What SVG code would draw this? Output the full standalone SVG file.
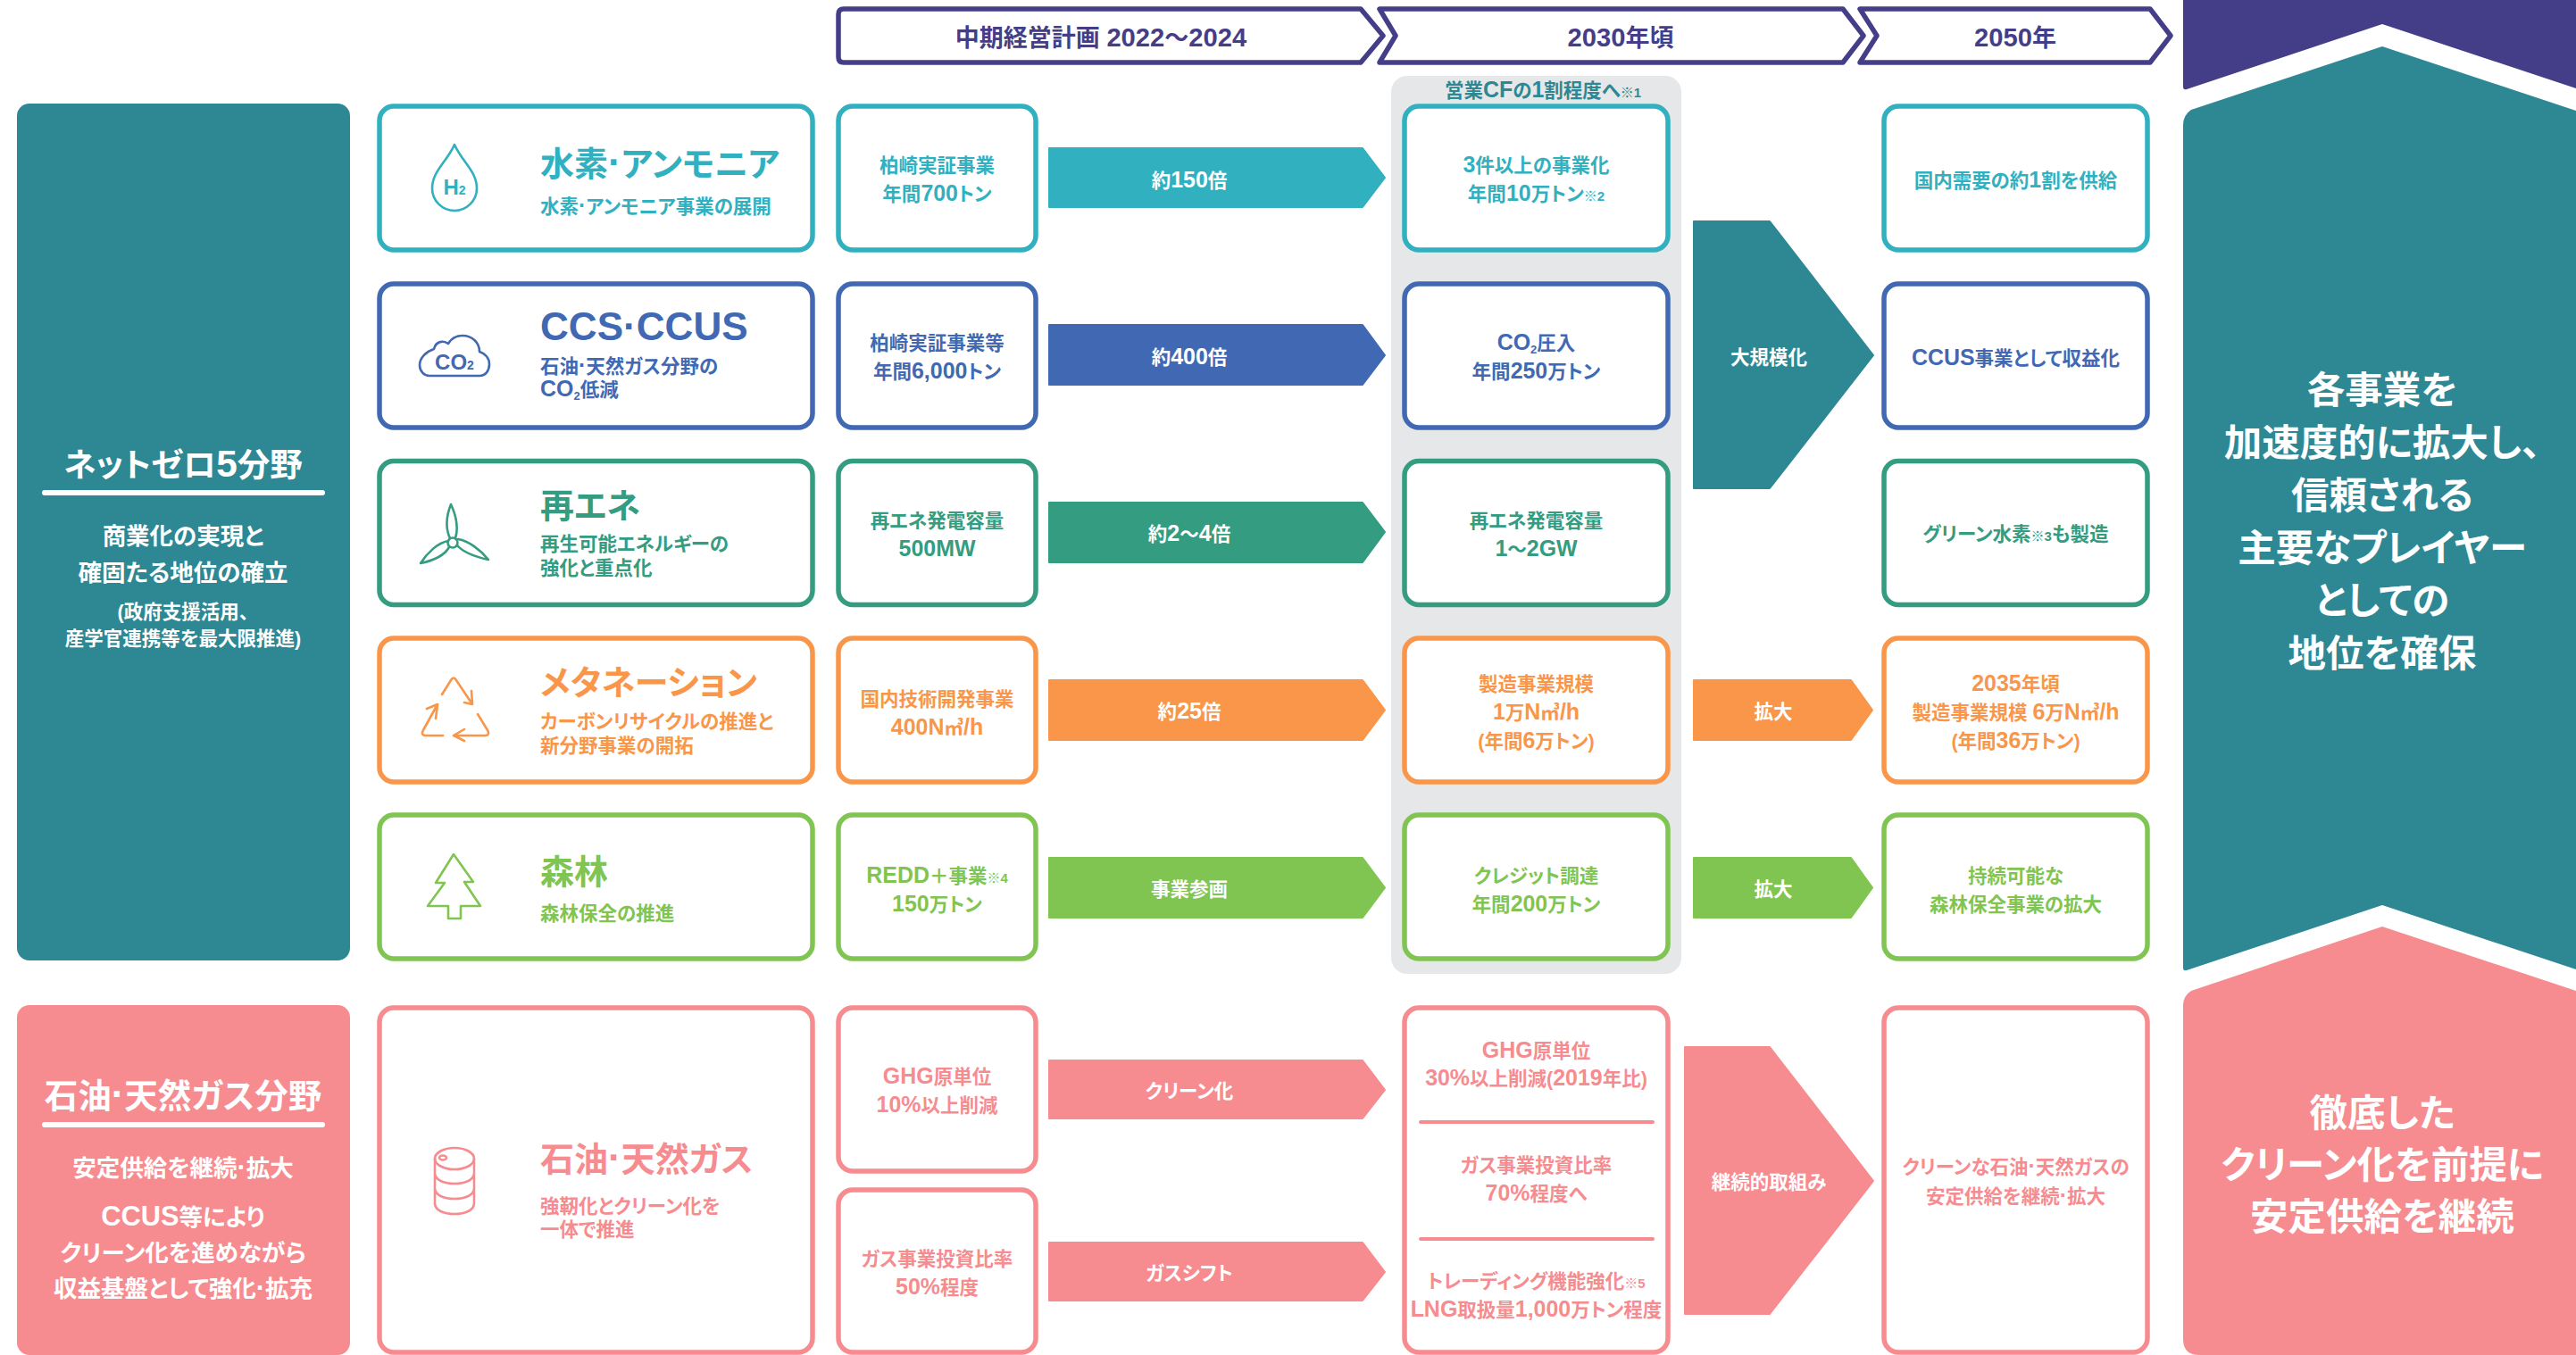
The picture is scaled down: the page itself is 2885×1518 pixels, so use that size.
<svg xmlns="http://www.w3.org/2000/svg" width="2885" height="1518" viewBox="0 0 2885 1518">
<style>
text{font-family:"Liberation Sans","Noto Sans CJK JP",sans-serif;font-weight:700;font-feature-settings:"palt";fill:currentColor;font-size:21.5px}
.m{text-anchor:middle}
.L{font-size:1.16em}
.hdt .L{font-size:1.08em}
.cy{color:#31b0bf}.bl{color:#4169b3}.gr{color:#349c80}.or{color:#f99649}.li{color:#80c551}.pk{color:#f68c90}.te{color:#2d8894}.pu{color:#443e88}
.box{fill:#fff;stroke:currentColor;stroke-width:5.5}
.arr{fill:currentColor;stroke:currentColor;stroke-width:2;stroke-linejoin:round}
.ic{fill:none;stroke:currentColor;stroke-width:2.6;stroke-linejoin:round;stroke-linecap:round}
.hd{fill:#fff;stroke:currentColor;stroke-width:5.5;stroke-linejoin:round}
.w{fill:#fff}
.ti{font-size:38px}
.hdt{font-size:27px}
.lt{font-size:36.5px}
.ls{font-size:26.5px}
.rt{font-size:42.5px}
.n{font-size:15px}
.s{font-size:13px}
</style>
<rect id="cf-band" x="1558" y="85" width="325" height="1006" rx="18" fill="#e6e7e8"/>
<text id="cf-label" class="m te" x="1728" y="109">営業<tspan class="L">CF</tspan>の<tspan class="L">1</tspan>割程度へ<tspan class="n">※1</tspan></text>

<g id="timeline-2022" class="pu"><path class="hd" d="M945,10H1524L1549,40L1524,70H945Q939,70 939,64V16Q939,10 945,10Z"/><text class="m hdt" x="1233" y="52">中期経営計画 <tspan class="L">2022</tspan>〜<tspan class="L">2024</tspan></text></g>
<g id="timeline-2030" class="pu"><path class="hd" d="M1545,10H2064L2087,40L2064,70H1545L1563,40Z"/><text class="m hdt" x="1815" y="52"><tspan class="L">2030</tspan>年頃</text></g>
<g id="timeline-2050" class="pu"><path class="hd" d="M2083,10H2408L2431,40L2408,70H2083L2102,40Z"/><text class="m hdt" x="2257" y="52"><tspan class="L">2050</tspan>年</text></g>

<g id="panel-netzero" class="te"><rect x="19" y="116" width="373" height="960" rx="14" fill="currentColor"/>
<text class="m lt w" x="205" y="534">ネットゼロ<tspan class="L">5</tspan>分野</text><rect class="w" x="47" y="549" width="317" height="6" rx="3"/>
<text class="m ls w" x="205" y="610">商業化の実現と</text><text class="m ls w" x="205" y="651">確固たる地位の確立</text>
<text class="m w" x="205" y="693">(政府支援活用、</text><text class="m w" x="205" y="723">産学官連携等を最大限推進)</text></g>
<g id="panel-oilgas" class="pk"><rect x="19" y="1126" width="373" height="392" rx="14" fill="currentColor"/>
<text class="m lt w" x="205" y="1241" style="font-size:37.5px">石油<tspan class="L">·</tspan>天然ガス分野</text><rect class="w" x="47" y="1257" width="317" height="6" rx="3"/>
<text class="m ls w" x="205" y="1318">安定供給を継続<tspan class="L">·</tspan>拡大</text><text class="m ls w" x="205" y="1373"><tspan class="L">CCUS</tspan>等により</text><text class="m ls w" x="205" y="1413">クリーン化を進めながら</text><text class="m ls w" x="205" y="1453">収益基盤として強化<tspan class="L">·</tspan>拡充</text></g>

<g id="field-hydrogen" class="cy"><rect class="box" x="425" y="119" width="485" height="161" rx="16"/>
<path class="ic" d="M509,162C500,182 484,192 484,211A25,25 0 0 0 534,211C534,192 518,182 509,162Z"/><text class="m" x="509" y="218" style="font-size:24px">H<tspan style="font-size:14px">2</tspan></text>
<text class="ti" x="605" y="197">水素<tspan class="L">·</tspan>アンモニア</text><text x="605" y="239">水素<tspan class="L">·</tspan>アンモニア事業の展開</text></g>
<g id="field-ccs" class="bl"><rect class="box" x="425" y="318" width="485" height="161" rx="16"/>
<path class="ic" d="M481,421H537C544,421 548,415 548,408C548,401 543,396 537,394C537,384 529,376 518,376C510,376 505,380 502,385C497,381 488,382 486,391C477,394 470,401 470,409C470,416 475,421 481,421Z"/><text class="m" x="509" y="414" style="font-size:24px">CO<tspan style="font-size:14px">2</tspan></text>
<text class="ti" x="605" y="381"><tspan class="L">CCS·CCUS</tspan></text><text x="605" y="418">石油<tspan class="L">·</tspan>天然ガス分野の</text><text x="605" y="444"><tspan class="L">CO</tspan><tspan class="s" dy="4">2</tspan><tspan dy="-4">低減</tspan></text></g>
<g id="field-renewable" class="gr"><rect class="box" x="425" y="516.5" width="485" height="161" rx="16"/>
<g class="ic"><circle cx="507" cy="608" r="5.5"/><path d="M504,603C498,590 501,575 505,565C511,578 514,590 510,603M502,606C490,608 478,620 471,631C485,628 498,622 503,613M512,611C520,620 533,624 547,627C538,616 525,606 513,604"/></g>
<text class="ti" x="605" y="580">再エネ</text><text x="605" y="617">再生可能エネルギーの</text><text x="605" y="644">強化と重点化</text></g>
<g id="field-methanation" class="or"><rect class="box" x="425" y="715" width="485" height="161" rx="16"/>
<path class="ic" d="M495,778L505,762Q508,757 511,762L529,789M520,787L529,789L528,774M496,824H477Q471,824 474,818L490,789M478,794L490,789L488,805M535,800L546,818Q549,824 543,824H508M520,817L508,824L520,830"/>
<text class="ti" x="605" y="778">メタネーション</text><text x="605" y="816">カーボンリサイクルの推進と</text><text x="605" y="843">新分野事業の開拓</text></g>
<g id="field-forest" class="li"><rect class="box" x="425" y="913" width="485" height="161" rx="16"/>
<path class="ic" d="M508,957L530,988H520L538,1015H516V1029H502V1015H479L498,989H488Z"/>
<text class="ti" x="605" y="990">森林</text><text x="605" y="1031">森林保全の推進</text></g>
<g id="field-oilgas" class="pk"><rect class="box" x="425" y="1129" width="485" height="386" rx="16"/>
<g class="ic"><ellipse cx="509" cy="1298" rx="22" ry="12"/><ellipse cx="496" cy="1297" rx="4" ry="2.5"/><path d="M487,1298V1348C487,1356 497,1360 509,1360C521,1360 531,1356 531,1348V1298M487,1314C487,1322 497,1326 509,1326C521,1326 531,1322 531,1314M487,1331C487,1339 497,1343 509,1343C521,1343 531,1339 531,1331"/></g>
<text class="ti" x="605" y="1312">石油<tspan class="L">·</tspan>天然ガス</text><text x="605" y="1359">強靭化とクリーン化を</text><text x="605" y="1385">一体で推進</text></g>

<g id="now-hydrogen" class="cy"><rect class="box" x="939" y="119" width="221" height="161" rx="16"/><text class="m" x="1049.5" y="193">柏崎実証事業</text><text class="m" x="1049.5" y="225">年間<tspan class="L">700</tspan>トン</text></g>
<g id="now-ccs" class="bl"><rect class="box" x="939" y="318" width="221" height="161" rx="16"/><text class="m" x="1049.5" y="392">柏崎実証事業等</text><text class="m" x="1049.5" y="424">年間<tspan class="L">6,000</tspan>トン</text></g>
<g id="now-renewable" class="gr"><rect class="box" x="939" y="516.5" width="221" height="161" rx="16"/><text class="m" x="1049.5" y="591">再エネ発電容量</text><text class="m" x="1049.5" y="623"><tspan class="L">500MW</tspan></text></g>
<g id="now-methanation" class="or"><rect class="box" x="939" y="715" width="221" height="161" rx="16"/><text class="m" x="1049.5" y="791">国内技術開発事業</text><text class="m" x="1049.5" y="823"><tspan class="L">400N</tspan>㎥<tspan class="L">/h</tspan></text></g>
<g id="now-forest" class="li"><rect class="box" x="939" y="913" width="221" height="161" rx="16"/><text class="m" x="1049.5" y="989"><tspan class="L">REDD</tspan>＋事業<tspan class="n">※4</tspan></text><text class="m" x="1049.5" y="1021"><tspan class="L">150</tspan>万トン</text></g>
<g id="now-oil-ghg" class="pk"><rect class="box" x="939" y="1129" width="221" height="183" rx="16"/><text class="m" x="1049.5" y="1214"><tspan class="L">GHG</tspan>原単位</text><text class="m" x="1049.5" y="1246"><tspan class="L">10%</tspan>以上削減</text></g>
<g id="now-oil-gas" class="pk"><rect class="box" x="939" y="1333" width="221" height="182" rx="16"/><text class="m" x="1049.5" y="1418">ガス事業投資比率</text><text class="m" x="1049.5" y="1450"><tspan class="L">50%</tspan>程度</text></g>

<g id="y2030-hydrogen" class="cy"><rect class="box" x="1573" y="119" width="295" height="161" rx="16"/><text class="m" x="1720.5" y="193"><tspan class="L">3</tspan>件以上の事業化</text><text class="m" x="1720.5" y="225">年間<tspan class="L">10</tspan>万トン<tspan class="n">※2</tspan></text></g>
<g id="y2030-ccs" class="bl"><rect class="box" x="1573" y="318" width="295" height="161" rx="16"/><text class="m" x="1720.5" y="392"><tspan class="L">CO</tspan><tspan class="s" dy="4">2</tspan><tspan dy="-4">圧入</tspan></text><text class="m" x="1720.5" y="424">年間<tspan class="L">250</tspan>万トン</text></g>
<g id="y2030-renewable" class="gr"><rect class="box" x="1573" y="516.5" width="295" height="161" rx="16"/><text class="m" x="1720.5" y="591">再エネ発電容量</text><text class="m" x="1720.5" y="623"><tspan class="L">1</tspan>〜<tspan class="L">2GW</tspan></text></g>
<g id="y2030-methanation" class="or"><rect class="box" x="1573" y="715" width="295" height="161" rx="16"/><text class="m" x="1720.5" y="774">製造事業規模</text><text class="m" x="1720.5" y="806"><tspan class="L">1</tspan>万<tspan class="L">N</tspan>㎥<tspan class="L">/h</tspan></text><text class="m" x="1720.5" y="838">(年間<tspan class="L">6</tspan>万トン)</text></g>
<g id="y2030-forest" class="li"><rect class="box" x="1573" y="913" width="295" height="161" rx="16"/><text class="m" x="1720.5" y="989">クレジット調達</text><text class="m" x="1720.5" y="1021">年間<tspan class="L">200</tspan>万トン</text></g>
<g id="y2030-oilgas" class="pk"><rect class="box" x="1573" y="1129" width="295" height="386" rx="16"/><rect x="1589" y="1255" width="264" height="4" rx="2" fill="currentColor"/><rect x="1589" y="1386" width="264" height="4" rx="2" fill="currentColor"/>
<text class="m" x="1720.5" y="1185"><tspan class="L">GHG</tspan>原単位</text><text class="m" x="1720.5" y="1216"><tspan class="L">30%</tspan>以上削減(<tspan class="L">2019</tspan>年比)</text><text class="m" x="1720.5" y="1313">ガス事業投資比率</text><text class="m" x="1720.5" y="1345"><tspan class="L">70%</tspan>程度へ</text><text class="m" x="1720.5" y="1443">トレーディング機能強化<tspan class="n">※5</tspan></text><text class="m" x="1720.5" y="1475"><tspan class="L">LNG</tspan>取扱量<tspan class="L">1,000</tspan>万トン程度</text></g>

<g id="y2050-hydrogen" class="cy"><rect class="box" x="2110" y="119" width="295" height="161" rx="16"/><text class="m" x="2257.5" y="210">国内需要の約<tspan class="L">1</tspan>割を供給</text></g>
<g id="y2050-ccs" class="bl"><rect class="box" x="2110" y="318" width="295" height="161" rx="16"/><text class="m" x="2257.5" y="409"><tspan class="L">CCUS</tspan>事業として収益化</text></g>
<g id="y2050-renewable" class="gr"><rect class="box" x="2110" y="516.5" width="295" height="161" rx="16"/><text class="m" x="2257.5" y="606">グリーン水素<tspan class="n">※3</tspan>も製造</text></g>
<g id="y2050-methanation" class="or"><rect class="box" x="2110" y="715" width="295" height="161" rx="16"/><text class="m" x="2257.5" y="774"><tspan class="L">2035</tspan>年頃</text><text class="m" x="2257.5" y="806">製造事業規模 <tspan class="L">6</tspan>万<tspan class="L">N</tspan>㎥<tspan class="L">/h</tspan></text><text class="m" x="2257.5" y="838">(年間<tspan class="L">36</tspan>万トン)</text></g>
<g id="y2050-forest" class="li"><rect class="box" x="2110" y="913" width="295" height="161" rx="16"/><text class="m" x="2257.5" y="989">持続可能な</text><text class="m" x="2257.5" y="1021">森林保全事業の拡大</text></g>
<g id="y2050-oilgas" class="pk"><rect class="box" x="2110" y="1129" width="295" height="386" rx="16"/><text class="m" x="2257.5" y="1315">クリーンな石油<tspan class="L">·</tspan>天然ガスの</text><text class="m" x="2257.5" y="1348">安定供給を継続<tspan class="L">·</tspan>拡大</text></g>

<g id="connectors">
<g class="cy"><polygon class="arr" points="1175,166 1526,166 1551,199 1526,232 1175,232"/><text class="m w" x="1332" y="210">約<tspan class="L">150</tspan>倍</text></g>
<g class="bl"><polygon class="arr" points="1175,364 1526,364 1551,398 1526,431 1175,431"/><text class="m w" x="1332" y="408">約<tspan class="L">400</tspan>倍</text></g>
<g class="gr"><polygon class="arr" points="1175,563 1526,563 1551,596 1526,630 1175,630"/><text class="m w" x="1332" y="606">約<tspan class="L">2</tspan>〜<tspan class="L">4</tspan>倍</text></g>
<g class="or"><polygon class="arr" points="1175,762 1526,762 1551,795.5 1526,829 1175,829"/><text class="m w" x="1332" y="805">約<tspan class="L">25</tspan>倍</text></g>
<g class="li"><polygon class="arr" points="1175,961 1526,961 1551,994.5 1526,1028 1175,1028"/><text class="m w" x="1332" y="1004">事業参画</text></g>
<g class="pk"><polygon class="arr" points="1175,1188 1526,1188 1551,1221 1526,1253 1175,1253"/><text class="m w" x="1332" y="1230">クリーン化</text></g>
<g class="pk"><polygon class="arr" points="1175,1392 1526,1392 1551,1425 1526,1457 1175,1457"/><text class="m w" x="1332" y="1434">ガスシフト</text></g>
<g class="te"><polygon class="arr" points="1897,248 1982,248 2098,398 1982,547 1897,547"/><text class="m w" x="1981" y="408">大規模化</text></g>
<g class="or"><polygon class="arr" points="1897,762 2073,762 2097,795.5 2073,829 1897,829"/><text class="m w" x="1986" y="805">拡大</text></g>
<g class="li"><polygon class="arr" points="1897,961 2073,961 2097,994.5 2073,1028 1897,1028"/><text class="m w" x="1986" y="1004">拡大</text></g>
<g class="pk"><polygon class="arr" points="1887,1173 1982,1173 2098,1323 1982,1472 1887,1472"/><text class="m w" x="1981" y="1332">継続的取組み</text></g>
</g>

<g id="outcome-top" class="pu"><path fill="currentColor" d="M2445,0H2885V99L2668,27L2449,100Q2445,101 2445,97Z"/></g>
<g id="outcome-netzero" class="te"><path fill="currentColor" d="M2445,1084V140Q2445,129 2454,123L2668,52L2885,124V1086L2668,1014L2449,1087Q2445,1088 2445,1084Z"/>
<text class="m rt w" x="2668" y="452">各事業を</text><text class="m rt w" x="2668" y="511">加速度的に拡大し、</text><text class="m rt w" x="2668" y="570">信頼される</text><text class="m rt w" x="2668" y="629">主要なプレイヤー</text><text class="m rt w" x="2668" y="688">としての</text><text class="m rt w" x="2668" y="747">地位を確保</text></g>
<g id="outcome-oilgas" class="pk"><path fill="currentColor" d="M2445,1500V1126Q2445,1116 2454,1110L2668,1038L2885,1110V1518H2463Q2445,1518 2445,1500Z"/>
<text class="m rt w" x="2668" y="1262">徹底した</text><text class="m rt w" x="2668" y="1320">クリーン化を前提に</text><text class="m rt w" x="2668" y="1378">安定供給を継続</text></g>
</svg>
